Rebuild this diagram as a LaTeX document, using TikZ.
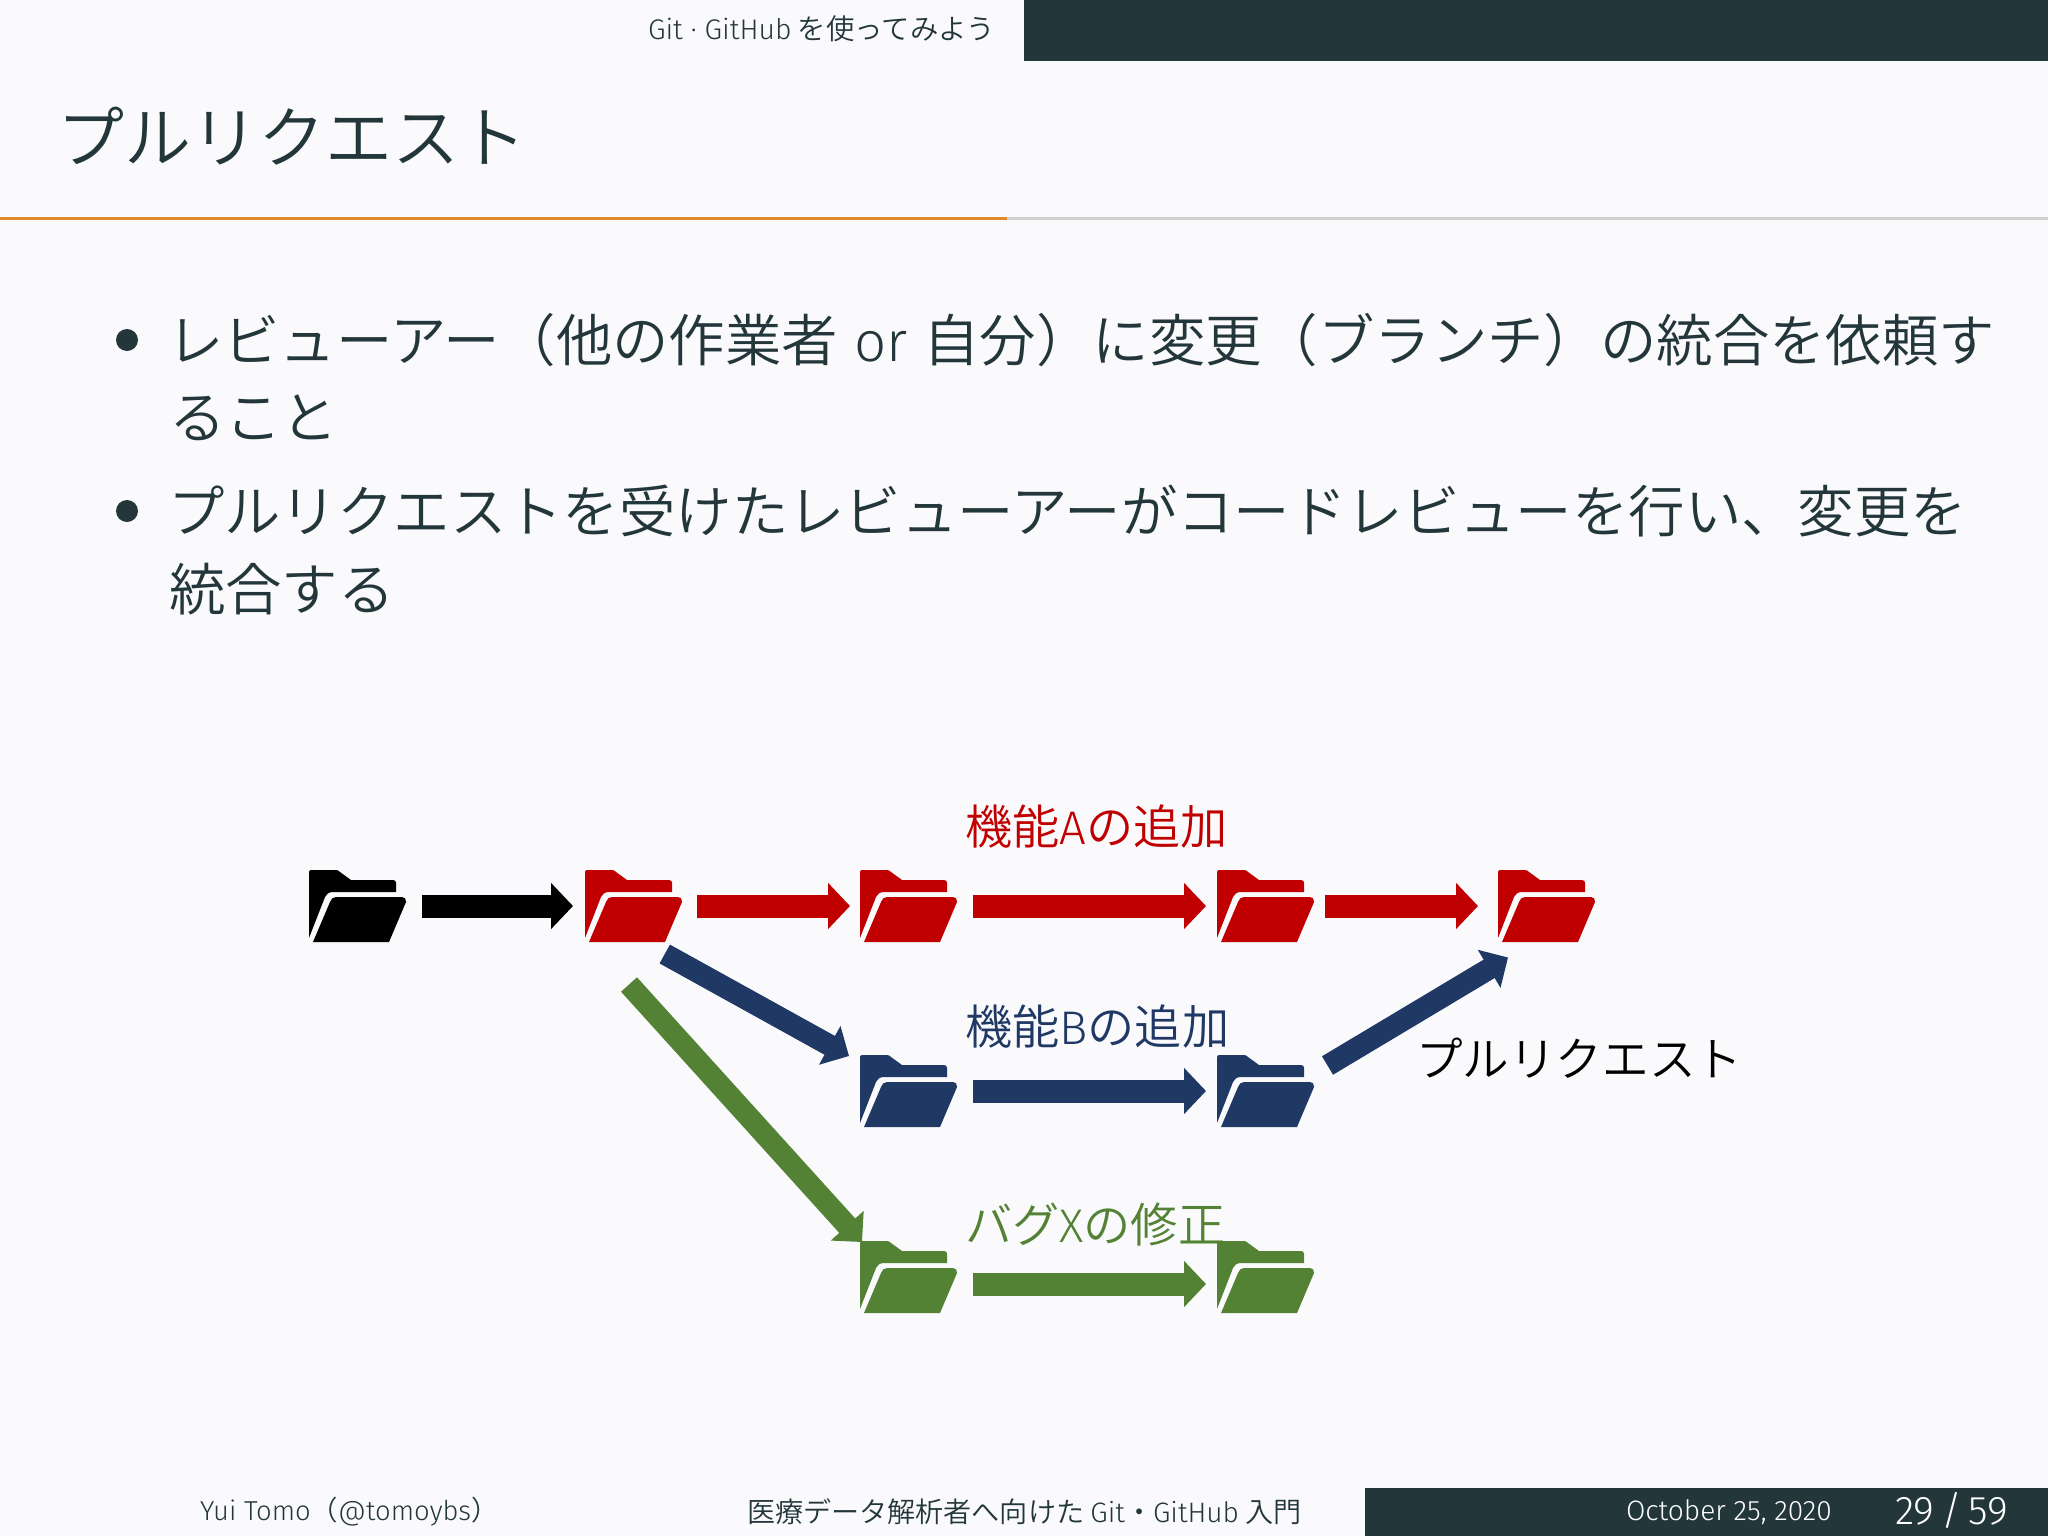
\documentclass[tikz,border=0pt]{standalone}
\usepackage{fontspec}
\setmainfont{Fira Sans Light}
\newfontfamily\jp{Noto Sans CJK JP DemiLight}
\usetikzlibrary{arrows.meta,calc}
\definecolor{bgc}{HTML}{FAFAFC}
\definecolor{dark}{HTML}{23373B}
\definecolor{orangeline}{HTML}{E4892B}
\definecolor{greyline}{HTML}{D0D0CE}
\definecolor{myred}{HTML}{C00000}
\definecolor{myblue}{HTML}{203864}
\definecolor{mygreen}{HTML}{548235}
\newcommand\foldernode[4]{%
  \node[folderbox] (#1) at (#2,#3) {};
  \begin{scope}[shift={(#1.north west)}]
    \fill[#4] (2,0) -- (27,0) .. controls (29,0) and (30,1) .. (31,2) -- (42,10) -- (84,10)
      .. controls (86,10) and (87,11) .. (87,13) -- (87,22) -- (24,22)
      .. controls (20,22) and (17,24) .. (16,27) -- (0,68) -- (0,2) .. controls (0,1) and (1,0) .. (2,0) -- cycle;
    \fill[#4] (27,27) -- (93,27) .. controls (96,27) and (97,29) .. (97,32) -- (80,72) -- (4,72) -- (21,32) .. controls (22,29) and (24,27) .. (27,27) -- cycle;
  \end{scope}}
\tikzset{
  x=0.5pt,y=-0.5pt,
  txt/.style={inner sep=0,outer sep=0,anchor=west,font=\jp},
  folderbox/.style={inner sep=0,outer sep=0,anchor=north west,minimum width=48.5pt,minimum height=36pt},
  blockarrow/.style={line width=11.5pt,-{Triangle[length=11pt,width=22.5pt]}},
  diagarrow/.style={line width=10.75pt,-{Triangle[length=11pt,width=21.5pt]}},
}
\begin{document}
\begin{tikzpicture}
\useasboundingbox (0,0) rectangle (2048,1536);
\fill[bgc] (0,0) rectangle (2048,1536);
% header
\fill[dark] (1024,0) rectangle (2048,61);
\fill[greyline] (1007,216.5) rectangle (2048,219.5);
\fill[orangeline] (0,216.5) rectangle (1007,219.5);
\node[txt,text=dark] (sec) at (648,29) {\fontsize{14.2pt}{16pt}\selectfont{\fontspec{Fira Sans Light}Git · GitHub} を使ってみよう};
\node[txt,text=dark] (ttl) at (57,136) {\fontsize{33.5pt}{38pt}\selectfont プルリクエスト};
% bullets
\node[circle,fill=dark,inner sep=0,minimum size=11pt] (b1) at (127,340) {};
\node[circle,fill=dark,inner sep=0,minimum size=11pt] (b2) at (127,511) {};
\node[txt,text=dark] (l1) at (167,340) {\fontsize{28.2pt}{32pt}\selectfont レビューアー（他の作業者\hspace{8pt}{\fontspec{Fira Sans Light}or}\hspace{8pt}自分）に変更（ブランチ）の統合を依頼す};
\node[txt,text=dark] (l2) at (169,418) {\fontsize{28.2pt}{32pt}\selectfont ること};
\node[txt,text=dark] (l3) at (168,511) {\fontsize{28.2pt}{32pt}\selectfont プルリクエストを受けたレビューアーがコードレビューを行い、変更を};
\node[txt,text=dark] (l4) at (169,589) {\fontsize{28.2pt}{32pt}\selectfont 統合する};
% labels
\node[txt,text=myred] (la) at (965,827) {\fontsize{23.6pt}{26pt}\selectfont 機能{\fontspec{Fira Sans Light}A}の追加};
\node[txt,text=myblue] (lb) at (965,1027) {\fontsize{23.6pt}{26pt}\selectfont 機能{\fontspec{Fira Sans Light}B}の追加};
\node[txt,text=mygreen] (lc) at (965,1225) {\fontsize{23.6pt}{26pt}\selectfont バグ{\fontspec{Fira Sans Light}X}の修正};
\node[txt,text=black] (lp) at (1416,1058) {\fontsize{23.3pt}{26pt}\selectfont プルリクエスト};
% folders
\foldernode{f0}{309}{870}{black}
\foldernode{f1}{585}{870}{myred}
\foldernode{f2}{860}{870}{myred}
\foldernode{f3}{1217}{870}{myred}
\foldernode{f4}{1498}{870}{myred}
\foldernode{b3}{860}{1055}{myblue}
\foldernode{b4}{1217}{1055}{myblue}
\foldernode{g1}{860}{1241}{mygreen}
\foldernode{g2}{1217}{1241}{mygreen}
% arrows
\draw[blockarrow,black] ($(f0.east)+(16,0)$) -- ($(f1.west)+(-12,0)$);
\draw[blockarrow,myred] ($(f1.east)+(15,0)$) -- ($(f2.west)+(-10,0)$);
\draw[blockarrow,myred] ($(f2.east)+(16,0)$) -- ($(f3.west)+(-11,0)$);
\draw[blockarrow,myred] ($(f3.east)+(11,0)$) -- ($(f4.west)+(-20,0)$);
\draw[blockarrow,myblue] ($(b3.east)+(16,0)$) -- ($(b4.west)+(-11,0)$);
\draw[blockarrow,mygreen] ($(g1.east)+(16,7)$) -- ($(g2.west)+(-11,7)$);
\coordinate (d1s) at (664.75,954);
\coordinate (d1e) at (849,1056);
\coordinate (d2s) at (629,984.5);
\coordinate (d2e) at (862,1242);
\coordinate (d3s) at (1327.5,1065.5);
\coordinate (d3e) at (1508,957.5);
\draw[diagarrow,myblue] (d1s) -- (d1e);
\draw[diagarrow,mygreen] (d2s) -- (d2e);
\draw[diagarrow,myblue] (d3s) -- (d3e);
% footer
\fill[dark] (1365,1488) rectangle (2048,1536);
\node[txt,text=dark] (fa) at (200,1512) {\fontsize{13.7pt}{16pt}\selectfont{\fontspec{Fira Sans Light}Yui Tomo}（{\fontspec{Fira Sans Light}@tomoybs}）};
\node[txt,text=dark] (fb) at (747,1512) {\fontsize{14.05pt}{16pt}\selectfont 医療データ解析者へ向けた {\fontspec{Fira Sans Light}Git}・{\fontspec{Fira Sans Light}GitHub} 入門};
\node[txt,text=white] (fc) at (1626,1512) {\fontsize{14.05pt}{16pt}\selectfont\fontspec{Fira Sans Light}October 25, 2020};
\node[txt,text=white] (fd) at (1895,1510) {\fontsize{20pt}{22pt}\selectfont\fontspec{Fira Sans Light}29\,/\,59};
\end{tikzpicture}
\end{document}
